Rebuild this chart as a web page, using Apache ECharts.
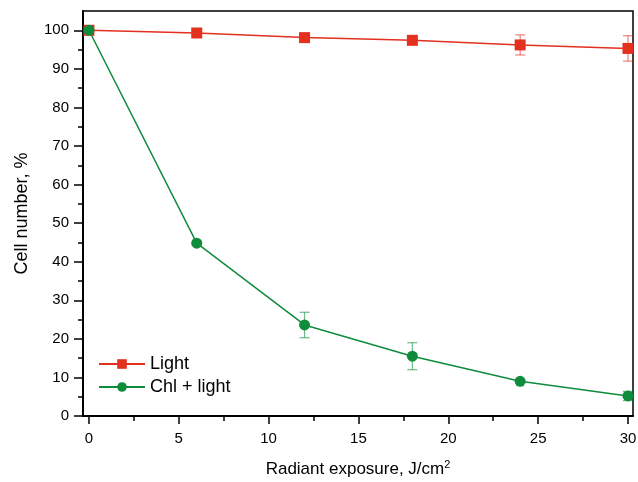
<!DOCTYPE html>
<html><head><meta charset="utf-8">
<script src="https://cdn.jsdelivr.net/npm/echarts@6/dist/echarts.min.js"></script>
<style>html,body{margin:0;padding:0;background:#fff}#c{width:638px;height:482px}</style>
</head><body><div id="c"></div>
<script>
var doses = [0, 6, 12, 18, 24, 30];
var lightMean = [100, 99.3, 98.1, 97.4, 96.2, 95.3];
var lightErr = [0.4, 0.4, 0.5, 1.1, 2.6, 3.3];
var chlMean = [100, 44.8, 23.6, 15.5, 9.0, 5.2];
var chlErr = [0.4, 0.5, 3.3, 3.5, 0.5, 1.2];
var xTicks = [0, 5, 10, 15, 20, 25, 30];
var xMinorTicks = [2.5, 7.5, 12.5, 17.5, 22.5, 27.5];
var yTicks = [0, 10, 20, 30, 40, 50, 60, 70, 80, 90, 100];
var yMinorTicks = [5, 15, 25, 35, 45, 55, 65, 75, 85, 95];

var RED = '#e3301f', GREEN = '#0f8c3b';
function pairs(m){ return doses.map(function(d,i){return [d, m[i]];}); }
function errData(m,e){ return doses.map(function(d,i){return [d, m[i]-e[i], m[i]+e[i]];}); }
function errSeries(m,e,color){
  return {type:'custom', silent:true, z:1, data: errData(m,e),
    renderItem:function(params, api){
      var x=api.value(0), lo=api.coord([x, api.value(1)]), hi=api.coord([x, api.value(2)]);
      var w=5;
      var st={stroke:color, lineWidth:1.2, opacity:0.6};
      return {type:'group', children:[
        {type:'line', shape:{x1:lo[0],y1:lo[1],x2:hi[0],y2:hi[1]}, style:st},
        {type:'line', shape:{x1:lo[0]-w,y1:lo[1],x2:lo[0]+w,y2:lo[1]}, style:st},
        {type:'line', shape:{x1:hi[0]-w,y1:hi[1],x2:hi[0]+w,y2:hi[1]}, style:st}
      ]};
    }};
}
var font = 'Liberation Sans, Arial, sans-serif';
var XMIN = -0.33, XMAX = 30.28, YMIN = 0, YMAX = 105;
var chart = echarts.init(document.getElementById('c'));
chart.setOption({
  animation:false,
  grid:{left:83, right:5, top:11, bottom:66, show:true, borderColor:'#000', borderWidth:1.5,
    containLabel:false, outerBoundsMode:'none'},
  legend:{left:93, top:350, orient:'vertical', itemWidth:46, itemHeight:12, itemGap:5,
    textStyle:{fontFamily:font, fontSize:18, color:'#000'},
    data:['Light','Chl + light']},
  xAxis:[{type:'value', min:XMIN, max:XMAX,
    axisLine:{onZero:false, lineStyle:{color:'#000', width:2}},
    axisTick:{show:true, customValues: xTicks, length:8, lineStyle:{width:1.5}},
    axisLabel:{customValues: xTicks, fontFamily:font, fontSize:15, color:'#000', margin:15},
    splitLine:{show:false},
    name:'{a|Radiant exposure, J/cm}{s|2}', nameLocation:'middle', nameGap:43,
    nameTextStyle:{rich:{a:{fontFamily:font, fontSize:17, color:'#000'}, s:{fontFamily:font, fontSize:11, color:'#000', verticalAlign:'bottom', padding:[0,0,10,0]}}}
  },{type:'value', min:XMIN, max:XMAX, position:'bottom',
    axisLine:{show:false, onZero:false},
    axisTick:{show:true, customValues: xMinorTicks, length:5, lineStyle:{color:'#000', width:1.5}},
    axisLabel:{show:false}, splitLine:{show:false}
  }],
  yAxis:[{type:'value', min:YMIN, max:YMAX,
    axisLine:{onZero:false, lineStyle:{color:'#000', width:2}},
    axisTick:{show:true, customValues: yTicks, length:9, lineStyle:{width:1.5}},
    axisLabel:{customValues: yTicks, fontFamily:font, fontSize:15, color:'#000', margin:14},
    splitLine:{show:false},
    name:'Cell number, %', nameLocation:'middle', nameGap:52,
    nameTextStyle:{fontFamily:font, fontSize:18, color:'#000'}
  },{type:'value', min:YMIN, max:YMAX, position:'left',
    axisLine:{show:false, onZero:false},
    axisTick:{show:true, customValues: yMinorTicks, length:5, lineStyle:{color:'#000', width:1.5}},
    axisLabel:{show:false}, splitLine:{show:false}
  }],
  series:[
    errSeries(lightMean, lightErr, RED),
    errSeries(chlMean, chlErr, GREEN),
    {name:'Light', type:'line', data:pairs(lightMean), symbol:'rect', symbolSize:11,
      lineStyle:{color:RED, width:1.5}, itemStyle:{color:RED}, z:3},
    {name:'Chl + light', type:'line', data:pairs(chlMean), symbol:'circle', symbolSize:11,
      lineStyle:{color:GREEN, width:1.5}, itemStyle:{color:GREEN}, z:3}
  ]
});
</script></body></html>
